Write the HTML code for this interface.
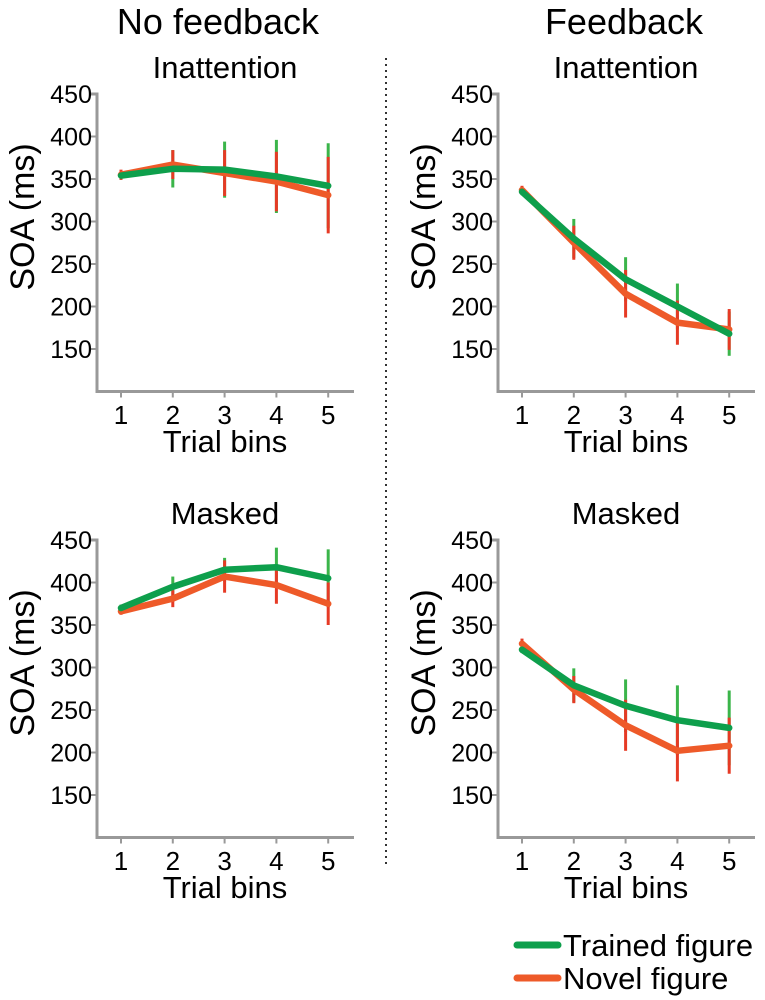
<!DOCTYPE html>
<html><head><meta charset="utf-8"><style>
body{margin:0;background:#fff}
svg{display:block;font-family:"Liberation Sans",sans-serif}
</style></head><body>
<svg id="c" width="765" height="1000">
<text x="218" y="34" font-size="36" text-anchor="middle">No feedback</text>
<text x="624" y="34" font-size="36" text-anchor="middle">Feedback</text>
<line x1="386" y1="58" x2="386" y2="868" stroke="#333" stroke-width="2" stroke-dasharray="2,4"/>
<line x1="517" y1="945" x2="558" y2="945" stroke="#0e9f4c" stroke-width="7" stroke-linecap="round"/>
<text x="563" y="956" font-size="31">Trained figure</text>
<line x1="517" y1="978" x2="558" y2="978" stroke="#ee5a29" stroke-width="7" stroke-linecap="round"/>
<text x="563" y="989" font-size="31">Novel figure</text>
</svg>
<script>
const bins=[1,2,3,4,5];
const yTicks=[150,200,250,300,350,400,450];
const panelTitles=["Inattention","Inattention","Masked","Masked"];
const tlGreen=[354,362,361,353,342];
const tlGreenErr=[5,22,33,43,50];
const tlOrange=[355,367,357,347,331];
const tlOrangeErr=[6,17,27,35,45];
const trGreen=[335,280,232,200,168];
const trGreenErr=[4,23,26,27,26];
const trOrange=[337,275,215,181,173];
const trOrangeErr=[5,20,28,26,24];
const blGreen=[370,395,415,418,405];
const blGreenErr=[4,12,14,23,34];
const blOrange=[366,381,407,397,375];
const blOrangeErr=[4,10,19,22,25];
const brGreen=[321,279,255,238,229];
const brGreenErr=[4,20,31,41,44];
const brOrange=[328,274,232,202,208];
const brOrangeErr=[6,16,30,36,33];
const panels=[
 {ox:0,oy:0,g:tlGreen,ge:tlGreenErr,o:tlOrange,oe:tlOrangeErr,name:"no-feedback-inattention"},
 {ox:401,oy:0,g:trGreen,ge:trGreenErr,o:trOrange,oe:trOrangeErr,name:"feedback-inattention"},
 {ox:0,oy:446,g:blGreen,ge:blGreenErr,o:blOrange,oe:blOrangeErr,name:"no-feedback-masked"},
 {ox:401,oy:446,g:brGreen,ge:brGreenErr,o:brOrange,oe:brOrangeErr,name:"feedback-masked"}];
const svg=document.getElementById('c');
const NS="http://www.w3.org/2000/svg";
function mk(tag,at,parent){const e=document.createElementNS(NS,tag);for(const k in at)e.setAttribute(k,at[k]);(parent||svg).appendChild(e);return e;}
const G="#0e9f4c",O="#ee5a29",GE="#3bb54a",OE="#e63a25";
panels.forEach((p,pi)=>{
 const g=mk('g',{});
 
 
 const xs=v=>p.ox+121+(v-1)*51.8;
 const ys=v=>p.oy+94+(450-v)*0.85;
 const t=mk('text',{x:p.ox+225,y:p.oy+78,'font-size':31,'text-anchor':'middle'},g);t.textContent=panelTitles[pi];
 
 
 const ya=mk('path',{d:`M${p.ox+91} ${ys(450)}H${p.ox+97}V${ys(100)}H${p.ox+354}`,stroke:'#999',fill:'none','stroke-width':3},g);
 
 
 yTicks.forEach(v=>{
  const l=mk('line',{x1:p.ox+91,x2:p.ox+97,y1:ys(v),y2:ys(v),stroke:'#999','stroke-width':2},g);
  
  
  const tx=mk('text',{x:p.ox+92,y:ys(v)+9,'font-size':25,'text-anchor':'end'},g);tx.textContent=v;
  
  
 });
 bins.forEach(b=>{
  const l=mk('line',{x1:xs(b),x2:xs(b),y1:ys(100),y2:ys(100)+6,stroke:'#999','stroke-width':2},g);
  
  
  const tx=mk('text',{x:xs(b),y:p.oy+424,'font-size':26,'text-anchor':'middle'},g);tx.textContent=b;
  
  
 });
 const xt=mk('text',{x:p.ox+225,y:p.oy+452,'font-size':31,'text-anchor':'middle'},g);xt.textContent="Trial bins";
 
 
 const yt=mk('text',{x:0,y:0,'font-size':34,'text-anchor':'middle',transform:`translate(${p.ox+34},${p.oy+217}) rotate(-90)`},g);yt.textContent="SOA (ms)";
 
 
 bins.forEach((b,i)=>{
  const e1=mk('line',{x1:xs(b),x2:xs(b),y1:ys(p.g[i]-p.ge[i]),y2:ys(p.g[i]+p.ge[i]),stroke:GE,'stroke-width':3},g);
  
  
  const e2=mk('line',{x1:xs(b),x2:xs(b),y1:ys(p.o[i]-p.oe[i]),y2:ys(p.o[i]+p.oe[i]),stroke:OE,'stroke-width':3},g);
  
  
 });
 const lo=mk('polyline',{points:bins.map((b,i)=>xs(b)+','+ys(p.o[i])).join(' '),fill:'none',stroke:O,'stroke-width':6.5,'stroke-linejoin':'round','stroke-linecap':'round'},g);
 
 
 const lg=mk('polyline',{points:bins.map((b,i)=>xs(b)+','+ys(p.g[i])).join(' '),fill:'none',stroke:G,'stroke-width':6.5,'stroke-linejoin':'round','stroke-linecap':'round'},g);
 
 
});
</script>
</body></html>
